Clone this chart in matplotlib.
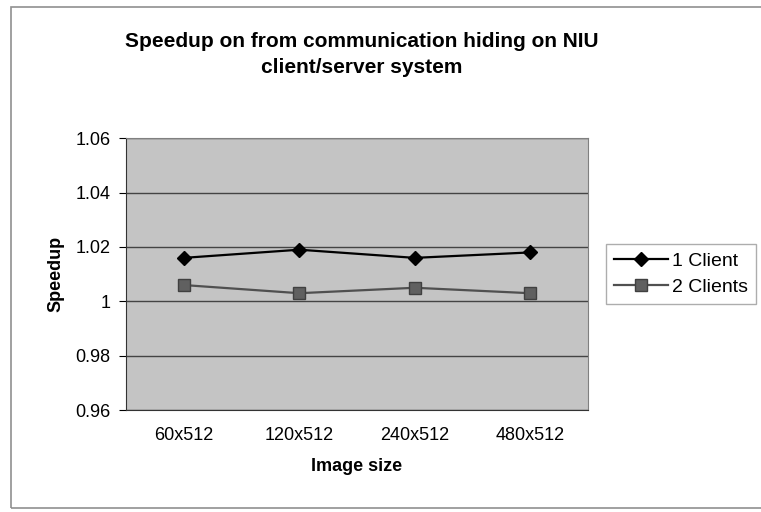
import matplotlib
matplotlib.use("Agg")
import matplotlib.pyplot as plt
from matplotlib.patches import Rectangle

plt.rcParams['font.family'] = ['Liberation Sans', 'DejaVu Sans']

# data
sizes = ["60x512", "120x512", "240x512", "480x512"]
one_client = [1.016, 1.019, 1.016, 1.018]
two_clients = [1.006, 1.003, 1.005, 1.003]
y_ticks = [0.96, 0.98, 1.0, 1.02, 1.04, 1.06]
y_labels = ["0.96", "0.98", "1", "1.02", "1.04", "1.06"]

fig = plt.figure(figsize=(7.61, 5.12), dpi=100)
fig.patch.set_facecolor("white")

# outer chart border
fig.patches.append(Rectangle((0.0145, 0.008), 1.0, 0.978, transform=fig.transFigure,
                             fill=False, edgecolor="#909090", linewidth=1.2))

ax = fig.add_axes([0.1656, 0.199, 0.607, 0.531])
ax.set_facecolor("#c4c4c4")

x = range(len(sizes))
ax.plot(x, one_client, color="black", marker="D", markersize=7, linewidth=1.6, label="1 Client")
ax.plot(x, two_clients, color="#505050", marker="s", markersize=8,
        markerfacecolor="#606060", markeredgecolor="#404040", linewidth=1.6, label="2 Clients")

ax.set_xlim(-0.5, 3.5)
ax.set_ylim(0.96, 1.06)
ax.set_yticks(y_ticks)
ax.set_yticklabels(y_labels)
ax.set_xticks(list(x))
ax.set_xticklabels(sizes)
ax.grid(axis="y", color="#444444", linewidth=1)
ax.set_axisbelow(True)
ax.tick_params(axis="x", length=0, pad=12, labelsize=13)
ax.tick_params(axis="y", direction="out", length=5, labelsize=13, pad=6)
for side in ["top", "right"]:
    ax.spines[side].set_color("#808080")
ax.spines["left"].set_color("#333333")
ax.spines["bottom"].set_color("#333333")

ax.set_xlabel("Image size", fontsize=13, fontweight="bold", labelpad=10)
ax.set_ylabel("Speedup", fontsize=13, fontweight="bold", labelpad=8)

fig.text(0.475, 0.894, "Speedup on from communication hiding on NIU\nclient/server system",
         ha="center", va="center", fontsize=15, fontweight="bold", linespacing=1.5)

leg = ax.legend(loc="center left", bbox_to_anchor=(1.039, 0.5), fontsize=14,
                frameon=True, fancybox=False, edgecolor="#999999", handlelength=2.8,
                borderpad=0.4, labelspacing=0.45, handletextpad=0.2, borderaxespad=0)
leg.get_frame().set_linewidth(1)

fig.savefig("out.png", dpi=100)
